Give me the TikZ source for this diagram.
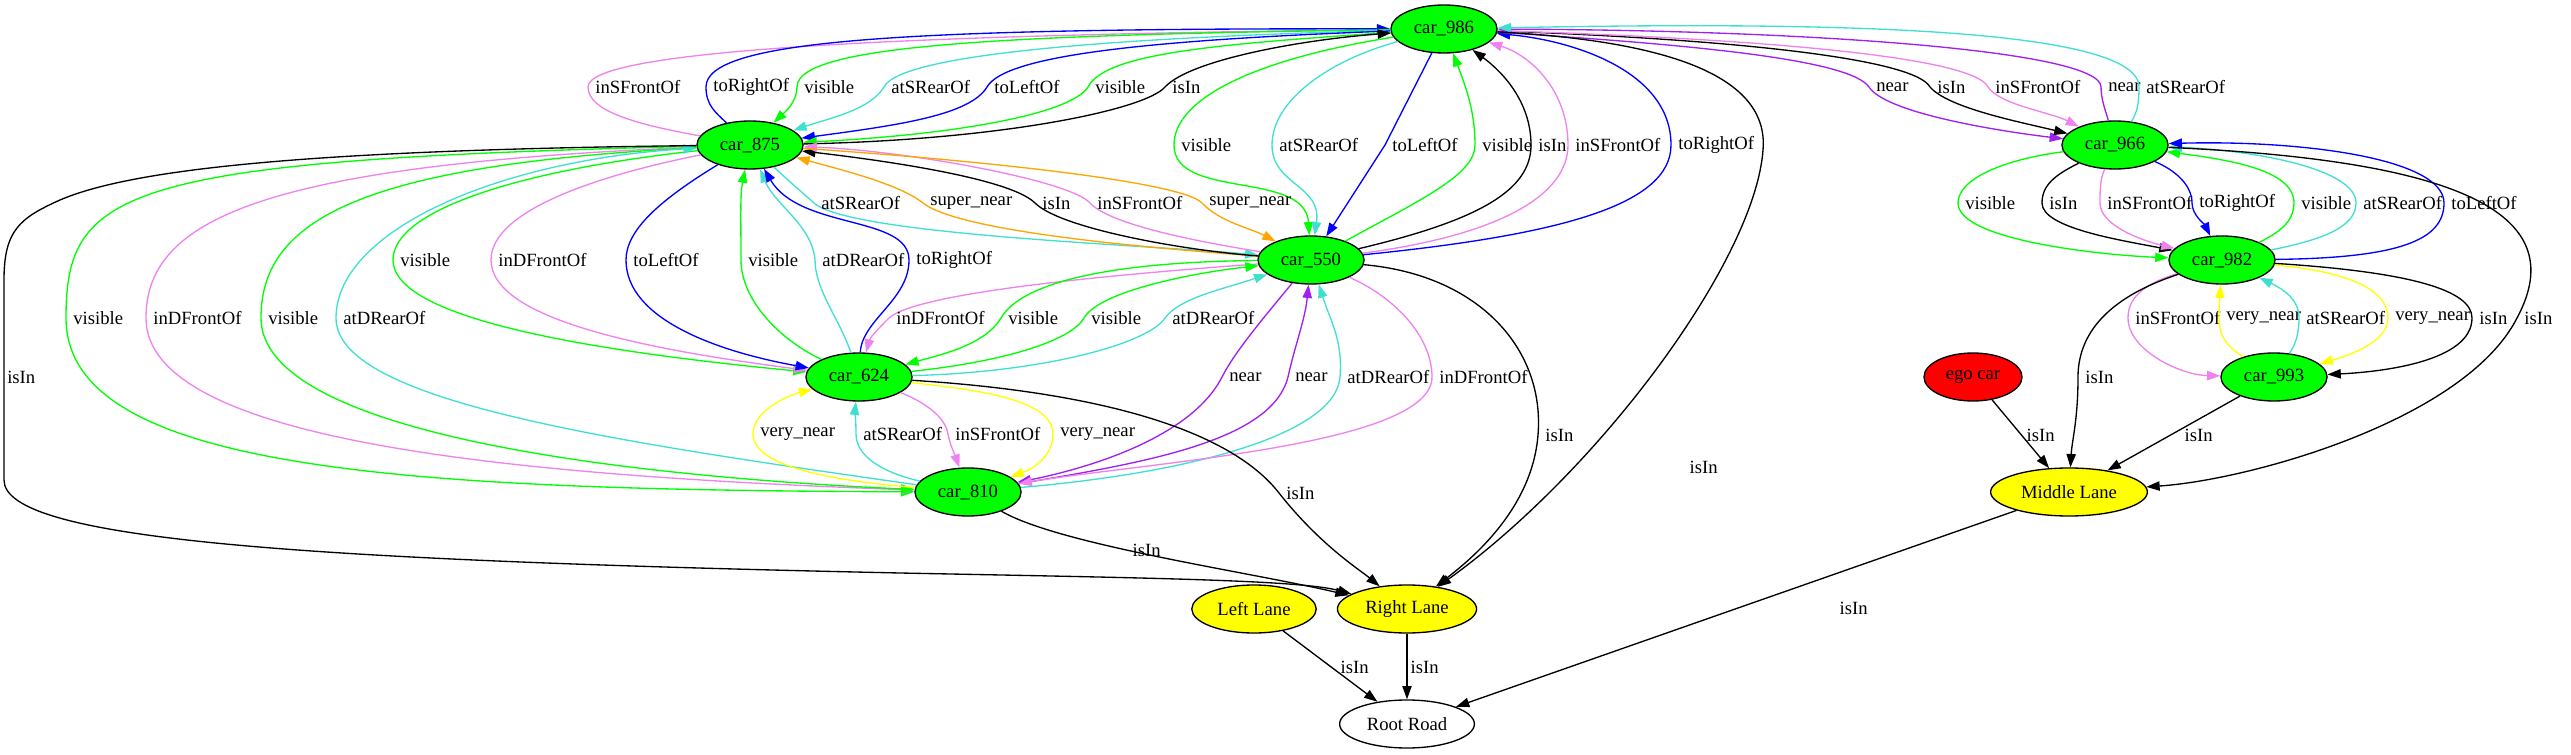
\documentclass[tikz,border=0pt]{standalone}
\usepackage{fontspec}
\setmainfont{Liberation Serif}
\usetikzlibrary{shapes.geometric,arrows.meta}

\definecolor{gvgreen}{HTML}{00FF00}
\definecolor{gvviolet}{HTML}{EE82EE}
\definecolor{gvturq}{HTML}{40E0D0}
\definecolor{gvblue}{HTML}{0000FF}
\definecolor{gvorange}{HTML}{FFA500}
\definecolor{gvpurple}{HTML}{A020F0}
\definecolor{gvyellow}{HTML}{FFFF00}
\definecolor{gvred}{HTML}{FF0000}

\newcommand{\gvfont}{\fontsize{14}{17}\selectfont}

\tikzset{
  obj/.style={ellipse, draw, line width=1pt, minimum height=36pt,
    inner xsep=5.6pt, inner ysep=2pt, font=\gvfont},
  car/.style={obj, fill=gvgreen},
  lane/.style={obj, fill=gvyellow},
  rel/.style={-{Triangle[length=10pt,width=7pt]}, line width=1pt},
  txt/.style={anchor=west, inner sep=0pt, text=black, font=\gvfont},
  lbl/.style={txt, xshift=5pt},
}

\begin{document}
\begin{tikzpicture}[x=0.75pt, y=-0.75pt]
\useasboundingbox (0,0) rectangle (2571,755);

% Voitures
\node[car] (c986) at (1444,29) {car\_986};
\node[car] (c875) at (750,145) {car\_875};
\node[car] (c966) at (2115,145) {car\_966};
\node[car] (c550) at (1311,260) {car\_550};
\node[car] (c982) at (2222,260) {car\_982};
\node[car] (c624) at (859,377) {car\_624};
\node[obj, fill=gvred] (ego) at (1973,377) {ego car};
\node[car] (c993) at (2274,377) {car\_993};
\node[car] (c810) at (968,492) {car\_810};

% Voies et route
\node[lane] (ml) at (2069,492) {Middle Lane};
\node[lane] (ll) at (1254,609) {Left Lane};
\node[lane] (rl) at (1407,609) {Right Lane};
\node[obj] (road) at (1407,724) {Root Road};

% car_986 - car_875
\draw[rel, gvviolet] (c875) .. controls (640,125) and (588,112) .. (588,87) node[lbl]{inSFrontOf} .. controls (588,50) and (900,35) .. (c986);
\draw[rel, gvblue] (c875) .. controls (715,112) and (706,105) .. (706,87) node[lbl]{toRightOf} .. controls (706,40) and (900,28) .. (c986);
\draw[rel, gvgreen] (c986) .. controls (1000,35) and (797,45) .. (797,87) node[lbl]{visible} .. controls (797,102) and (785,112) .. (c875);
\draw[rel, gvturq] (c986) .. controls (1100,38) and (900,55) .. (884,87) node[lbl]{atSRearOf} .. controls (870,110) and (830,118) .. (c875);
\draw[rel, gvblue] (c986) .. controls (1150,40) and (1005,55) .. (987,87) node[lbl]{toLeftOf} .. controls (970,115) and (900,125) .. (c875);
\draw[rel, gvgreen] (c986) .. controls (1200,45) and (1105,55) .. (1088,87) node[lbl]{visible} .. controls (1070,115) and (950,135) .. (c875);
\draw[rel] (c875) .. controls (1000,140) and (1145,110) .. (1165,87) node[lbl]{isIn} .. controls (1190,60) and (1300,40) .. (c986);

% car_986 - car_550
\draw[rel, gvgreen] (c986) .. controls (1250,60) and (1174,100) .. (1174,145) node[lbl]{visible} .. controls (1174,200) and (1305,170) .. (c550);
\draw[rel, gvturq] (c986) .. controls (1330,60) and (1272,100) .. (1272,145) node[lbl]{atSRearOf} .. controls (1272,185) and (1322,185) .. (c550);
\draw[rel, gvblue] (c986) -- (1385,145) node[lbl]{toLeftOf} -- (c550);
\draw[rel, gvgreen] (c550) .. controls (1420,200) and (1475,175) .. (1475,145) node[lbl]{visible} .. controls (1475,110) and (1465,85) .. (c986);
\draw[rel] (c550) .. controls (1480,220) and (1531,190) .. (1531,145) node[lbl]{isIn} .. controls (1531,100) and (1500,70) .. (c986);
\draw[rel, gvviolet] (c550) .. controls (1500,235) and (1568,195) .. (1568,145) node[lbl]{inSFrontOf} .. controls (1568,90) and (1530,55) .. (c986);
\draw[rel, gvblue] (c550) .. controls (1560,235) and (1671,205) .. (1671,145) node[lbl]{toRightOf} .. controls (1671,70) and (1570,40) .. (c986);

% car_986 - car_966
\draw[rel, gvpurple] (c986) .. controls (1700,45) and (1850,60) .. (1869,87) node[lbl]{near} .. controls (1885,112) and (1990,130) .. (c966);
\draw[rel] (c986) .. controls (1750,40) and (1915,60) .. (1930,87) node[lbl]{isIn} .. controls (1948,108) and (2020,122) .. (c966);
\draw[rel, gvviolet] (c986) .. controls (1800,40) and (1975,60) .. (1988,87) node[lbl]{inSFrontOf} .. controls (2000,105) and (2050,112) .. (c966);
\draw[rel, gvpurple] (c966) .. controls (2106,112) and (2101,100) .. (2101,87) node[lbl]{near} .. controls (2101,50) and (1800,30) .. (c986);
\draw[rel, gvturq] (c966) .. controls (2138,112) and (2139,100) .. (2139,87) node[lbl]{atSRearOf} .. controls (2139,25) and (1800,22) .. (c986);

% car_966 - car_982
\draw[rel, gvgreen] (c966) .. controls (2000,160) and (1958,180) .. (1958,203) node[lbl]{visible} .. controls (1958,240) and (2100,255) .. (c982);
\draw[rel] (c966) .. controls (2055,175) and (2042,185) .. (2042,203) node[lbl]{isIn} .. controls (2042,228) and (2120,240) .. (c982);
\draw[rel, gvviolet] (c966) .. controls (2100,180) and (2100,190) .. (2100,203) node[lbl]{inSFrontOf} .. controls (2100,225) and (2140,240) .. (c982);
\draw[rel, gvblue] (c966) .. controls (2175,170) and (2192,185) .. (2192,203) node[lbl]{toRightOf} .. controls (2192,215) and (2205,225) .. (c982);
\draw[rel, gvgreen] (c982) .. controls (2285,230) and (2294,218) .. (2294,203) node[lbl]{visible} .. controls (2294,170) and (2230,160) .. (c966);
\draw[rel, gvturq] (c982) .. controls (2320,240) and (2356,228) .. (2356,203) node[lbl]{atSRearOf} .. controls (2356,168) and (2250,150) .. (c966);
\draw[rel, gvblue] (c982) .. controls (2400,258) and (2444,240) .. (2444,203) node[lbl]{toLeftOf} .. controls (2444,158) and (2300,140) .. (c966);

% car_982 - car_993
\draw[rel, gvviolet] (c982) .. controls (2140,285) and (2128,300) .. (2128,318) node[lbl]{inSFrontOf} .. controls (2128,350) and (2180,375) .. (c993);
\draw[rel, gvyellow] (c993) .. controls (2225,345) and (2219,335) .. (2219,318) node[lbl]{very\_near} .. controls (2219,305) and (2220,295) .. (c982);
\draw[rel, gvturq] (c993) .. controls (2295,345) and (2299,335) .. (2299,318) node[lbl]{atSRearOf} .. controls (2299,300) and (2285,290) .. (c982);
\draw[rel, gvyellow] (c982) .. controls (2350,272) and (2388,290) .. (2388,318) node[lbl]{very\_near} .. controls (2388,342) and (2350,355) .. (c993);
\draw[rel] (c982) .. controls (2410,272) and (2472,290) .. (2472,318) node[lbl]{isIn} .. controls (2472,362) and (2380,372) .. (c993);

% vers Middle Lane
\draw[rel] (c966) .. controls (2450,160) and (2575,210) .. (2517,318) node[lbl]{isIn} .. controls (2465,420) and (2250,480) .. (ml);
\draw[rel] (c982) .. controls (2100,300) and (2078,340) .. (2078,377) node[lbl]{isIn} .. controls (2078,420) and (2072,440) .. (ml);
\draw[rel] (ego) -- (ml) node[txt] at (2026,435) {isIn};
\draw[rel] (c993) -- (ml) node[txt] at (2184,435) {isIn};

% car_875 - car_550
\draw[rel, gvturq] (c875) .. controls (790,182) and (805,195) .. (814,203) node[lbl]{atSRearOf} .. controls (850,235) and (1150,245) .. (c550);
\draw[rel, gvorange] (c550) .. controls (1150,248) and (960,232) .. (923,203) node[lbl]{super\_near} .. controls (900,185) and (850,172) .. (c875);
\draw[rel] (c550) .. controls (1180,250) and (1060,228) .. (1035,203) node[lbl]{isIn} .. controls (1010,178) and (880,160) .. (c875);
\draw[rel, gvviolet] (c550) .. controls (1200,242) and (1110,225) .. (1090,203) node[lbl]{inSFrontOf} .. controls (1070,180) and (900,150) .. (c875);
\draw[rel, gvorange] (c875) .. controls (950,158) and (1180,180) .. (1202,203) node[lbl]{super\_near} .. controls (1220,222) and (1250,228) .. (c550);

% car_875 - car_624
\draw[rel, gvgreen] (c875) .. controls (520,170) and (393,210) .. (393,260) node[lbl]{visible} .. controls (393,320) and (600,352) .. (c624);
\draw[rel, gvviolet] (c875) .. controls (600,175) and (491,210) .. (491,260) node[lbl]{inDFrontOf} .. controls (491,320) and (650,350) .. (c624);
\draw[rel, gvblue] (c875) .. controls (660,200) and (626,230) .. (626,260) node[lbl]{toLeftOf} .. controls (626,320) and (720,352) .. (c624);
\draw[rel, gvgreen] (c624) .. controls (780,340) and (741,300) .. (741,260) node[lbl]{visible} .. controls (741,220) and (740,195) .. (c875);
\draw[rel, gvturq] (c624) .. controls (840,320) and (815,290) .. (815,260) node[lbl]{atDRearOf} .. controls (812,225) and (775,205) .. (c875);
\draw[rel, gvblue] (c624) .. controls (862,320) and (909,300) .. (909,260) node[lbl]{toRightOf} .. controls (909,215) and (800,230) .. (c875);

% car_875 - car_810
\draw[rel, gvgreen] (c875) .. controls (120,160) and (66,190) .. (66,318) node[lbl]{visible} .. controls (66,470) and (400,490) .. (c810);
\draw[rel, gvviolet] (c875) .. controls (260,165) and (146,220) .. (146,318) node[lbl]{inDFrontOf} .. controls (146,440) and (500,475) .. (c810);
\draw[rel, gvgreen] (c875) .. controls (360,165) and (261,220) .. (261,318) node[lbl]{visible} .. controls (261,430) and (600,475) .. (c810);
\draw[rel, gvturq] (c810) .. controls (600,440) and (336,400) .. (336,318) node[lbl]{atDRearOf} .. controls (336,230) and (500,160) .. (c875);

% car_550 - car_624
\draw[rel, gvviolet] (c550) .. controls (1150,272) and (920,290) .. (889,318) node[lbl]{inDFrontOf} .. controls (875,332) and (870,338) .. (c624);
\draw[rel, gvgreen] (c550) .. controls (1100,262) and (1020,285) .. (1001,318) node[lbl]{visible} .. controls (985,345) and (940,355) .. (c624);
\draw[rel, gvgreen] (c624) .. controls (1000,362) and (1070,342) .. (1084,318) node[lbl]{visible} .. controls (1100,290) and (1200,272) .. (c550);
\draw[rel, gvturq] (c624) .. controls (1050,372) and (1150,342) .. (1165,318) node[lbl]{atDRearOf} .. controls (1180,298) and (1220,290) .. (c550);

% car_550 - car_810
\draw[rel, gvpurple] (c550) .. controls (1262,320) and (1236,350) .. (1222,377) node[lbl]{near} .. controls (1190,440) and (1080,470) .. (c810);
\draw[rel, gvpurple] (c810) .. controls (1150,462) and (1272,440) .. (1288,377) node[lbl]{near} .. controls (1295,345) and (1305,320) .. (c550);
\draw[rel, gvturq] (c810) .. controls (1200,472) and (1336,432) .. (1340,377) node[lbl]{atDRearOf} .. controls (1343,340) and (1330,320) .. (c550);
\draw[rel, gvviolet] (c550) .. controls (1400,300) and (1432,340) .. (1432,377) node[lbl]{inDFrontOf} .. controls (1432,445) and (1150,462) .. (c810);

% car_624 - car_810
\draw[rel, gvyellow] (c810) .. controls (850,482) and (753,470) .. (753,434) node[lbl]{very\_near} .. controls (753,410) and (790,395) .. (c624);
\draw[rel, gvturq] (c810) .. controls (880,472) and (856,455) .. (856,434) node[lbl]{atSRearOf} .. controls (856,420) and (855,410) .. (c624);
\draw[rel, gvviolet] (c624) .. controls (920,400) and (945,415) .. (948,434) node[lbl]{inSFrontOf} .. controls (950,445) and (955,455) .. (c810);
\draw[rel, gvyellow] (c624) .. controls (980,390) and (1053,400) .. (1053,434) node[lbl]{very\_near} .. controls (1053,455) and (1035,468) .. (c810);

% vers Right Lane
\draw[rel] (c875) .. controls (300,150) and (130,170) .. (60,200) .. controls (20,218) and (4,230) .. (4,280) -- (4,480) .. controls (4,540) and (300,560) .. (900,573) .. controls (1150,578) and (1300,580) .. (rl);
\node[txt] (l875) at (7,377) {isIn};
\draw[rel] (c624) .. controls (1100,392) and (1230,430) .. (1279,493) node[lbl]{isIn} .. controls (1320,545) and (1360,570) .. (rl);
\draw[rel] (c810) .. controls (1060,545) and (1250,572) .. (rl) node[txt] at (1132,550) {isIn};
\draw[rel] (c550) .. controls (1480,275) and (1545,350) .. (1538,435) node[lbl]{isIn} .. controls (1532,510) and (1470,560) .. (rl);
\draw[rel] (c986) .. controls (1650,40) and (1770,70) .. (1763,150) .. controls (1755,260) and (1600,470) .. (rl) node[txt] at (1689,467) {isIn};

% vers Root Road
\draw[rel] (ml) -- (road) node[txt] at (1839,608) {isIn};
\draw[rel] (ll) -- (road) node[txt] at (1340,667) {isIn};
\draw[rel] (rl) -- (road) node[txt] at (1410,667) {isIn};

\end{tikzpicture}
\end{document}
